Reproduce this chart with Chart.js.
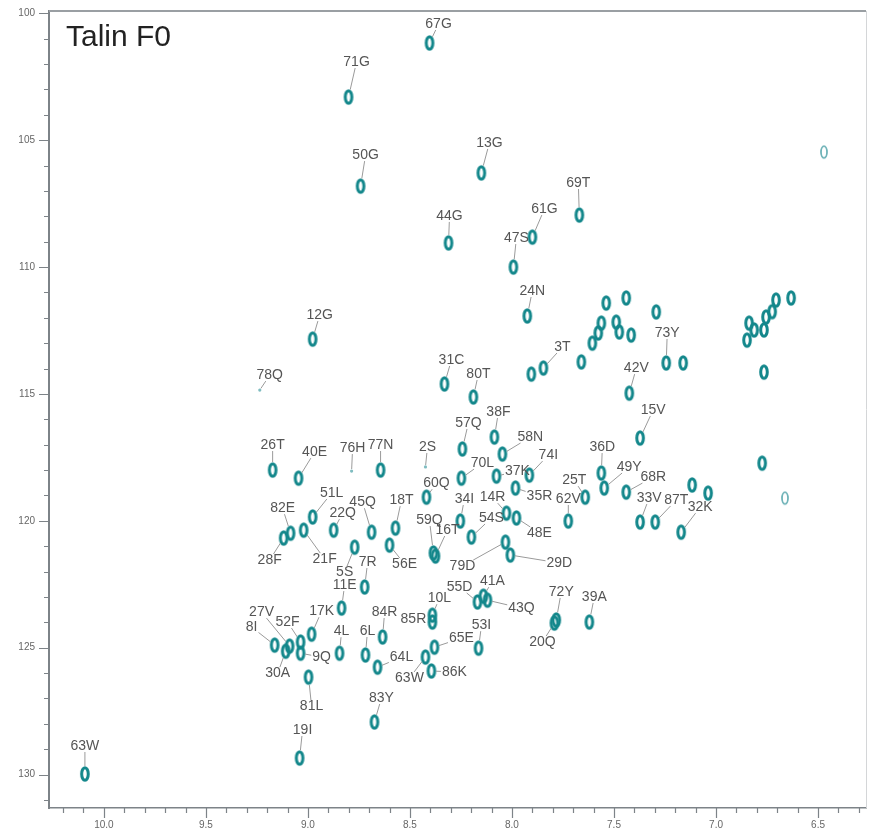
<!DOCTYPE html>
<html>
<head>
<meta charset="utf-8">
<script src="https://cdn.jsdelivr.net/npm/chart.js@4.4.1/dist/chart.umd.min.js"></script>
<style>
  html, body { margin: 0; padding: 0; background: #fff; }
  #wrap { position: relative; width: 871px; height: 835px; }
  #title { position: absolute; left: 66px; top: 19px; font: 30px "Liberation Sans", Arial, sans-serif; color: #222; }
</style>
</head>
<body>
<div id="wrap">
  <canvas id="myChart" width="871" height="835"></canvas>
  <div id="title">Talin F0</div>
</div>
<script>
// assigned peaks: residue, 1H ppm, 15N ppm
const resNames = ["67G","71G","50G","13G","69T","61G","44G","47S","24N","12G",
  "31C","80T","3T","57Q","38F","58N","74I","37K","70L","35R",
  "77N","40E","26T","60Q","34I","14R","48E","54S","59Q","16T",
  "18T","45Q","22Q","51L","21F","82E","28F","56E","5S","7R",
  "11E","79D","29D","17K","4L","6L","84R","85R","10L","55D",
  "41A","43Q","53I","65E","64L","63W","86K","83Y","81L","19I",
  "9Q","52F","27V","8I","30A","63W","72Y","20Q","39A","73Y",
  "42V","15V","36D","49Y","68R","33V","87T","32K","25T","62V"];
const hShift = [8.404,8.801,8.742,8.150,7.670,7.900,8.311,7.993,7.925,8.977,
  8.331,8.189,7.846,8.243,8.086,8.047,7.915,8.076,8.248,7.983,
  8.644,9.046,9.173,8.419,8.253,8.027,7.978,8.199,8.385,8.375,
  8.571,8.688,8.874,8.977,9.021,9.085,9.119,8.600,8.771,8.722,
  8.835,8.032,8.008,8.982,8.845,8.718,8.634,8.390,8.390,8.169,
  8.140,8.120,8.164,8.380,8.659,8.424,8.395,8.674,8.997,9.041,
  9.036,9.036,9.090,9.163,9.109,10.093,7.783,7.792,7.621,7.244,
  7.425,7.372,7.562,7.548,7.440,7.372,7.298,7.171,7.641,7.724];
const nShift = [101.17,103.30,106.81,106.29,107.95,108.82,109.05,110.00,111.93,112.84,
  114.61,115.12,113.98,117.17,116.70,117.37,118.20,118.24,118.32,118.71,
  118.00,118.32,118.00,119.07,120.01,119.70,119.89,120.64,121.27,121.39,
  120.29,120.45,120.37,119.85,120.37,120.49,120.68,120.96,121.04,122.61,
  123.44,120.84,121.35,124.47,125.22,125.29,124.58,123.99,123.72,123.20,
  122.97,123.13,125.02,124.98,125.77,125.37,125.92,127.93,126.16,129.35,
  125.22,124.78,124.94,124.90,125.14,129.98,123.91,124.03,123.99,113.78,
  114.97,116.74,118.12,118.71,118.87,120.05,120.05,120.45,119.07,120.01];
// label offsets from the peak, in pixels
const labelDx = [9,8,5,8,-1,12,1,3,5,7, 7,5,19,6,4,28,19,21,21,24,
  0,16,0,10,4,-14,23,20,-4,12, 6,-9,9,19,21,-8,-14,15,-10,3,
  3,-43,49,10,2,2,2,-19,7,-18, 9,34,3,27,24,-16,23,7,3,3,
  21,-13,-28,-23,-8,0,5,-12,5,1, 7,13,1,25,27,9,21,19,-11,0];
const labelDy = [-19,-35,-31,-30,-32,-28,-27,-29,-25,-24, -24,-23,-21,-26,-25,-17,-20,-5,-15,8,
  -25,-26,-25,-14,-22,-16,15,-19,-33,-26, -28,-30,-17,-24,29,-25,22,19,25,-25,
  -23,24,8,-23,-22,-24,-25,-3,-17,-15, -15,8,-23,-9,-10,21,1,-24,29,-28,
  4,-20,-34,-18,22,-28,-28,19,-25,-30, -25,-28,-26,-21,-15,-24,-22,-25,-17,-22];

// weak assigned peaks
const weakNames = ["78Q","2S","76H"];
const weakH = [9.236,8.424,8.786];
const weakN = [114.85,117.88,118.04];
const weakDx = [10,2,1];
const weakDy = [-15,-20,-23];

// unassigned peaks
const otherH = [7.905,7.660,7.538,7.440,7.562,7.577,7.606,7.489,7.474,7.416,7.293,7.161,
  7.117,7.039,6.774,6.765,6.632,6.706,6.725,6.755,6.765,6.838,6.848,6.813];
const otherN = [114.22,113.74,111.42,111.22,112.21,112.60,113.00,112.17,112.56,112.68,111.77,113.78,
  118.59,118.91,117.73,114.14,111.22,111.30,111.76,111.97,112.48,112.21,112.88,112.48];
const faintH = [6.471,6.662];
const faintN = [105.47,119.11];

function ring(rx, ry, lw, color) {
  const c = document.createElement("canvas");
  c.width = Math.ceil(2 * rx + lw + 4);
  c.height = Math.ceil(2 * ry + lw + 4);
  const g = c.getContext("2d");
  g.strokeStyle = color;
  g.lineWidth = lw;
  g.beginPath();
  g.ellipse(c.width / 2, c.height / 2, rx, ry, 0, 0, Math.PI * 2);
  g.stroke();
  return c;
}

const toPts = (xs, ys) => xs.map((x, i) => ({ x: x, y: ys[i] }));
const teal = "#13878b";

const peakLabels = {
  id: "peakLabels",
  afterDatasetsDraw(chart) {
    const ctx = chart.ctx;
    ctx.save();
    ctx.font = '14px "Liberation Sans", Arial, sans-serif';
    ctx.textAlign = "center";
    ctx.textBaseline = "middle";
    const sets = [[0, resNames, labelDx, labelDy], [1, weakNames, weakDx, weakDy]];
    sets.forEach(([di, names, dxs, dys]) => {
      const meta = chart.getDatasetMeta(di);
      meta.data.forEach((pt, i) => {
        const dx = dxs[i], dy = dys[i];
        const lx = pt.x + dx, ly = pt.y + dy;
        const hw = ctx.measureText(names[i]).width / 2 + 1, hh = 6;
        const s = Math.min(dx ? hw / Math.abs(dx) : 1e9, dy ? hh / Math.abs(dy) : 1e9);
        // start at the rim of the peak
        const len = Math.hypot(dx, dy);
        const ux = dx / len, uy = dy / len;
        const r = di === 0 ? 1 / Math.sqrt((ux / 4.5) ** 2 + (uy / 8) ** 2) : 2;
        if (s < 1 && len * (1 - s) > r + 1) {
          ctx.strokeStyle = "#9a9a9a";
          ctx.lineWidth = 1;
          ctx.beginPath();
          ctx.moveTo(pt.x + ux * r, pt.y + uy * r);
          ctx.lineTo(lx - dx * s, ly - dy * s);
          ctx.stroke();
        }
        ctx.fillStyle = "#555";
        ctx.fillText(names[i], lx, ly);
      });
    });
    ctx.restore();
  }
};

const frameTicks = {
  id: "frameTicks",
  afterDraw(chart) {
    const ctx = chart.ctx;
    const a = chart.chartArea;
    const xs = chart.scales.x, ys = chart.scales.y;
    ctx.save();
    ctx.strokeStyle = "#7d8388";
    ctx.lineWidth = 1.2;
    ctx.beginPath();
    for (let k = 63; k <= 102; k++) {
      const px = Math.round(xs.getPixelForValue(k / 10)) + 0.5;
      const L = k % 5 === 0 ? 10 : 5;
      ctx.moveTo(px, a.bottom);
      ctx.lineTo(px, a.bottom + L);
    }
    for (let v = 100; v <= 131; v++) {
      const py = Math.round(ys.getPixelForValue(v)) + 0.5;
      const L = v % 5 === 0 ? 10 : 5;
      ctx.moveTo(a.left, py);
      ctx.lineTo(a.left - L, py);
    }
    ctx.stroke();
    // top and right frame
    ctx.strokeStyle = "#9a9fa3";
    ctx.lineWidth = 2;
    ctx.beginPath();
    ctx.moveTo(a.left, a.top);
    ctx.lineTo(a.right, a.top);
    ctx.stroke();
    ctx.strokeStyle = "#d4d6d8";
    ctx.lineWidth = 1;
    ctx.beginPath();
    ctx.moveTo(a.right + 0.5, a.top);
    ctx.lineTo(a.right + 0.5, a.bottom);
    ctx.stroke();
    ctx.restore();
  }
};

const ctx = document.getElementById("myChart");
const peakStyle = ring(3.3, 6.3, 3, teal);

new Chart(ctx, {
  type: "scatter",
  data: {
    datasets: [
      { data: toPts(hShift, nShift), pointStyle: peakStyle },
      { data: toPts(weakH, weakN), pointStyle: "circle", pointRadius: 1.6, backgroundColor: "#7fbcc0", borderWidth: 0 },
      { data: toPts(otherH, otherN), pointStyle: peakStyle },
      { data: toPts(faintH, faintN), pointStyle: ring(3, 5.8, 1.8, "#6fb3b8") }
    ]
  },
  options: {
    responsive: false,
    animation: false,
    devicePixelRatio: 1,
    layout: { padding: { top: 11, right: 4, left: 0, bottom: 0 } },
    plugins: { legend: { display: false }, tooltip: { enabled: false } },
    scales: {
      x: {
        type: "linear",
        reverse: true,
        min: 6.265,
        max: 10.269,
        afterFit: s => { s.height = 27; },
        border: { color: "#7d8388", width: 1.5 },
        grid: { drawOnChartArea: false, tickLength: 10, tickColor: "transparent" },
        ticks: {
          stepSize: 0.5,
          includeBounds: false,
          autoSkip: false,
          maxRotation: 0,
          padding: 1,
          color: "#666",
          font: { size: 10, family: "Liberation Sans, Arial, sans-serif" },
          callback: v => Math.abs(v * 2 - Math.round(v * 2)) < 1e-6 ? v.toFixed(1) : ""
        }
      },
      y: {
        type: "linear",
        reverse: true,
        min: 99.91,
        max: 131.32,
        afterFit: s => { s.width = 49; },
        border: { color: "#7d8388", width: 2 },
        grid: { drawOnChartArea: false, tickLength: 10, tickColor: "transparent" },
        ticks: {
          stepSize: 5,
          includeBounds: false,
          autoSkip: false,
          padding: 4,
          color: "#666",
          font: { size: 10, family: "Liberation Sans, Arial, sans-serif" },
          callback: v => Math.abs(v / 5 - Math.round(v / 5)) < 1e-6 ? String(Math.round(v)) : ""
        }
      }
    }
  },
  plugins: [peakLabels, frameTicks]
});
</script>
</body>
</html>
